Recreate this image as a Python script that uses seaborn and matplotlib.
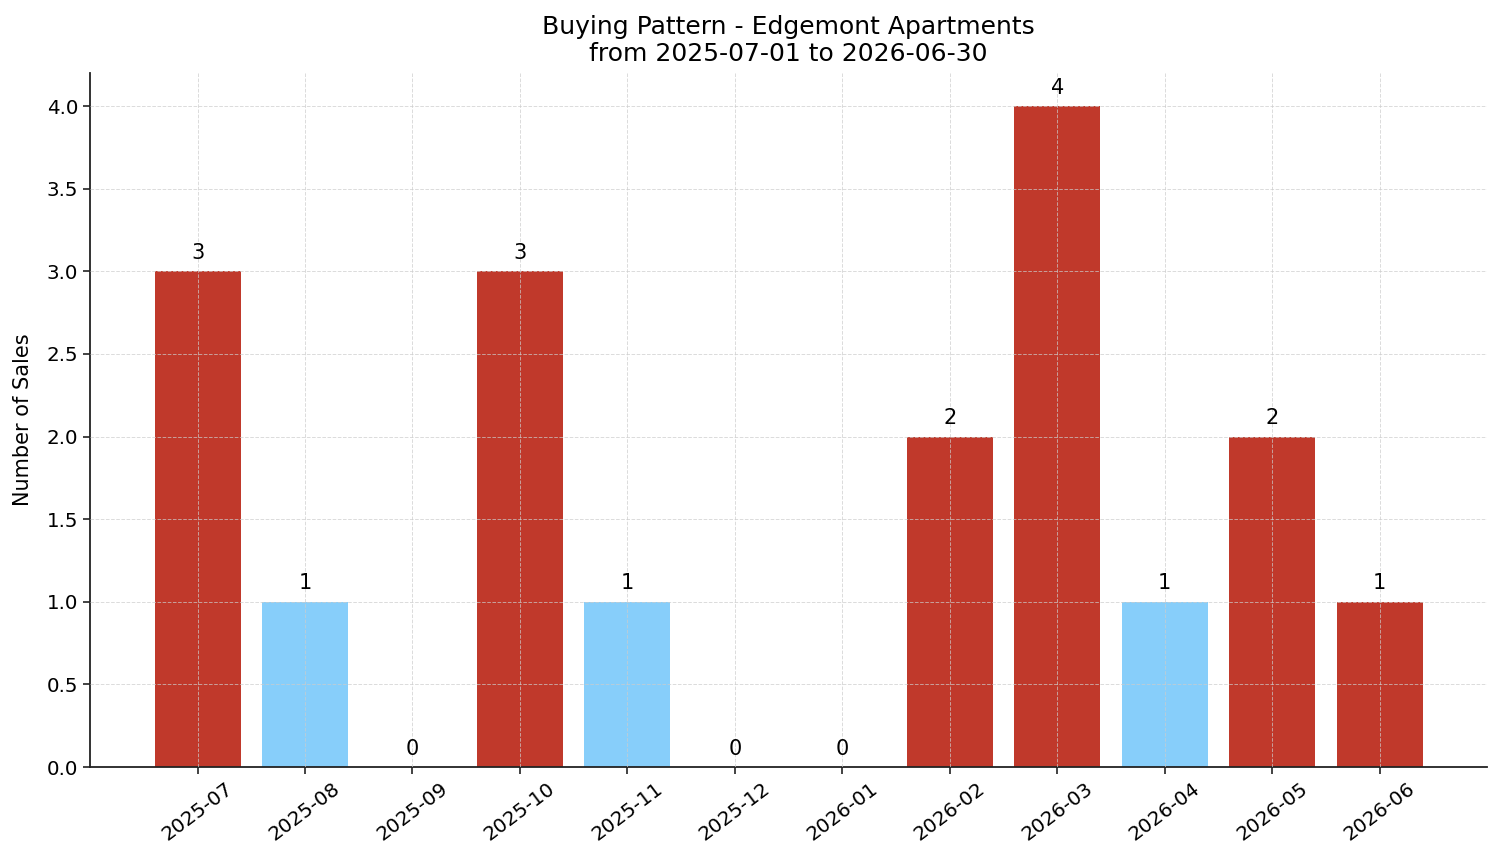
import matplotlib
matplotlib.use("Agg")
import matplotlib.pyplot as plt
import seaborn as sns
import pandas as pd

months = ["2025-07", "2025-08", "2025-09", "2025-10", "2025-11", "2025-12",
          "2026-01", "2026-02", "2026-03", "2026-04", "2026-05", "2026-06"]
sales = [3, 1, 0, 3, 1, 0, 0, 2, 4, 1, 2, 1]
bar_colors = ["#C0392B", "#87CEFA", "#C0392B", "#C0392B", "#87CEFA", "#C0392B",
              "#C0392B", "#C0392B", "#C0392B", "#87CEFA", "#C0392B", "#C0392B"]

df = pd.DataFrame({"month": months, "sales": sales})

sns.set_style("white")
plt.rcParams['font.family'] = ['DejaVu Sans']
plt.rcParams['text.color'] = 'black'
plt.rcParams['axes.labelcolor'] = 'black'

fig = plt.figure(figsize=(15.01, 8.63), dpi=100)
ax = fig.add_axes([0.06, 0.1112, 0.9307, 0.8042])

sns.barplot(data=df, x="month", y="sales", hue="month",
            palette=dict(zip(months, bar_colors)), legend=False,
            width=0.8, saturation=1, linewidth=0, ax=ax)

for i, v in enumerate(sales):
    ax.annotate(str(v), (i, v), xytext=(0, 6), textcoords="offset points",
                ha="center", va="bottom", fontsize=15, color="black")

ax.set_xlim(-1, 12)
ax.set_ylim(0, 4.2)
ax.set_yticks([0, 0.5, 1.0, 1.5, 2.0, 2.5, 3.0, 3.5, 4.0])
ax.set_yticklabels([f"{t:.1f}" for t in ax.get_yticks()])
ax.grid(True, linestyle="--", color="#cccccc", linewidth=0.7, alpha=0.7)
ax.set_axisbelow(False)
ax.tick_params(axis="both", which="both", length=5, width=1.2, labelsize=14.3,
               left=True, bottom=True, colors="#222222", labelcolor="black")
for lbl in ax.get_xticklabels():
    lbl.set_rotation(37)
    lbl.set_ha("center")
    lbl.set_va("top")
ax.set_xlabel("")
ax.set_ylabel("Number of Sales", fontsize=15, color="black", labelpad=10)
ax.set_title("Buying Pattern - Edgemont Apartments\nfrom 2025-07-01 to 2026-06-30",
             fontsize=18, linespacing=1.15, color="black", pad=9)
sns.despine(ax=ax)
for s in ["left", "bottom"]:
    ax.spines[s].set_color("#222222")
    ax.spines[s].set_linewidth(1.3)

fig.savefig("out.png", dpi=100)
